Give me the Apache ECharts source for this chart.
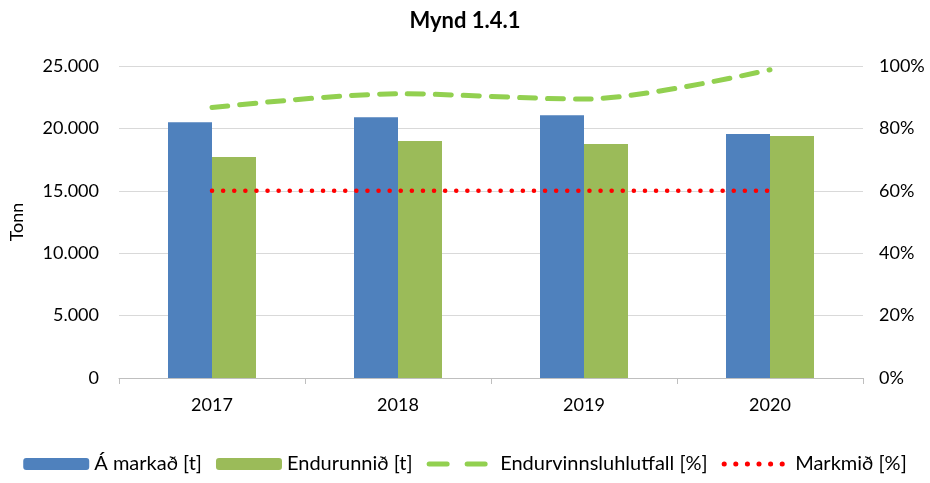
<!DOCTYPE html>
<html><head><meta charset="utf-8">
<script src="https://cdn.jsdelivr.net/npm/echarts@6/dist/echarts.min.js"></script>
<style>html,body{margin:0;padding:0;background:#fff}#c{width:930px;height:483px}</style>
</head><body><div id="c"></div>
<script>
const categories = ['2017', '2018', '2019', '2020'];
const aMarkad = [20500, 20900, 21050, 19550];
const endurunnid = [17700, 19000, 18750, 19400];
const hlutfall = [86.7, 91.1, 89.4, 98.8];
const markmid = [60, 60, 60, 60];
const leftTicks = [0, 5000, 10000, 15000, 20000, 25000];

const font = 'Lato, "Open Sans", sans-serif';
const fmtThousands = v => String(v).replace(/\B(?=(\d{3})+(?!\d))/g, '.');
const chart = echarts.init(document.getElementById('c'));
chart.setOption({
  animation: false,
  textStyle: { fontFamily: font },
  title: { text: 'Mynd 1.4.1', left: 'center', top: 5,
    textStyle: { fontFamily: font, fontSize: 22, fontWeight: 'bold', color: '#000' } },
  legend: {
    bottom: 4, left: 'center', itemWidth: 66, itemHeight: 12, itemGap: 14,
    textStyle: { fontFamily: font, fontSize: 20, color: '#000' },
    data: [
      { name: 'Á markað [t]' },
      { name: 'Endurunnið [t]' },
      { name: 'Endurvinnsluhlutfall [%]', itemStyle: { opacity: 0 },
        lineStyle: { width: 5, type: [18, 20], cap: 'round', color: '#92D050' } },
      { name: 'Markmið [%]', itemStyle: { opacity: 0 },
        lineStyle: { width: 5, type: [0.1, 11.5], cap: 'round', color: '#FF0000' } }
    ]
  },
  grid: { left: 118, right: 67, top: 66, bottom: 105 },
  xAxis: {
    type: 'category', data: categories,
    axisLine: { lineStyle: { color: '#bfbfbf' } },
    axisTick: { show: true, length: 6, lineStyle: { color: '#bfbfbf' } },
    axisLabel: { color: '#000', fontSize: 18, margin: 18, fontFamily: font }
  },
  yAxis: [
    { type: 'value', min: leftTicks[0], max: leftTicks[leftTicks.length - 1], interval: 5000,
      name: 'Tonn', nameLocation: 'middle', nameGap: 93, nameRotate: 90,
      nameTextStyle: { fontSize: 18, color: '#000', fontFamily: font },
      axisLabel: { color: '#000', fontSize: 18, margin: 20, fontFamily: font, formatter: fmtThousands },
      splitLine: { lineStyle: { color: '#d9d9d9', width: 1 } },
      axisLine: { show: false }, axisTick: { show: false } },
    { type: 'value', min: 0, max: 100, interval: 20,
      axisLabel: { color: '#000', fontSize: 18, margin: 16, fontFamily: font, formatter: '{value}%' },
      splitLine: { show: false }, axisLine: { show: false }, axisTick: { show: false } }
  ],
  series: [
    { name: 'Á markað [t]', type: 'bar', data: aMarkad, barWidth: 44, barGap: '0%',
      itemStyle: { color: '#4F81BD' } },
    { name: 'Endurunnið [t]', type: 'bar', data: endurunnid, barWidth: 44,
      itemStyle: { color: '#9BBB59' } },
    { name: 'Endurvinnsluhlutfall [%]', type: 'line', yAxisIndex: 1, data: hlutfall,
      smooth: 0.3, symbol: 'none',
      itemStyle: { color: '#92D050' },
      lineStyle: { color: '#92D050', width: 5, type: [16, 12], cap: 'round' } },
    { name: 'Markmið [%]', type: 'line', yAxisIndex: 1, data: markmid,
      symbol: 'none',
      itemStyle: { color: '#FF0000' },
      lineStyle: { color: '#FF0000', width: 4.5, type: [0.1, 11], cap: 'round' } }
  ]
});
</script></body></html>
